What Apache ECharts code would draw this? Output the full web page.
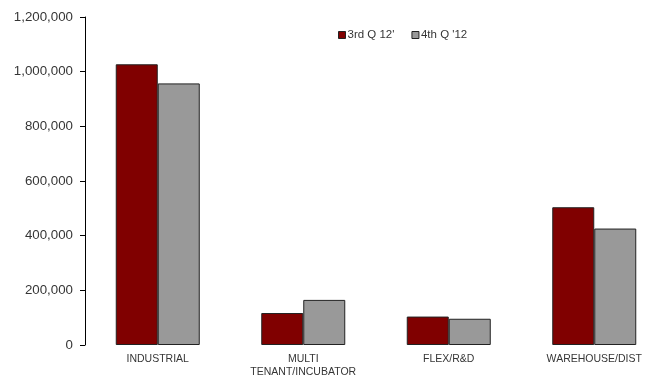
<!DOCTYPE html>
<html>
<head>
<meta charset="utf-8">
<script src="https://cdn.jsdelivr.net/npm/echarts@6/dist/echarts.min.js"></script>
<style>
  html, body { margin: 0; padding: 0; background: #fff; }
  #chart { width: 654px; height: 376px; }
</style>
</head>
<body>
<div id="chart"></div>
<script>
// Space by property type, two quarters
const categories = ['INDUSTRIAL', 'MULTI\nTENANT/INCUBATOR', 'FLEX/R&D', 'WAREHOUSE/DIST'];
const q3Values = [1027000, 117000, 104000, 504000];
const q4Values = [957000, 165000, 96000, 426000];
const seriesNames = ['3rd Q 12\'', '4th Q \'12'];
const yTicks = { min: 0, max: 1200000, interval: 200000 };

const chart = echarts.init(document.getElementById('chart'), null, { renderer: 'canvas' });

const textColor = '#363636';
const font = 'Liberation Sans, Arial, sans-serif';

chart.setOption({
  animation: false,
  backgroundColor: '#ffffff',
  legend: {
    data: seriesNames,
    left: 333,
    top: 24,
    itemWidth: 7,
    itemHeight: 7,
    itemGap: 17,
    icon: 'rect',
    textStyle: { color: textColor, fontFamily: font, fontSize: 11.5, padding: [0, 0, 0, -3] },
    itemStyle: { borderColor: '#222', borderWidth: 1 }
  },
  grid: { left: 85, top: 17, width: 582, height: 328, containLabel: false, outerBoundsMode: 'none' },
  xAxis: {
    type: 'category',
    data: categories,
    axisLine: { show: false },
    axisTick: { show: false },
    axisLabel: {
      color: textColor, fontFamily: font, fontSize: 10.5, margin: 8, lineHeight: 13, interval: 0
    }
  },
  yAxis: {
    type: 'value',
    min: yTicks.min,
    max: yTicks.max,
    interval: yTicks.interval,
    axisLine: { show: true, lineStyle: { color: '#000', width: 1 } },
    axisTick: { show: true, length: 5, lineStyle: { color: '#000' } },
    splitLine: { show: false },
    axisLabel: {
      color: textColor, fontFamily: font, fontSize: 13.3, margin: 12,
      formatter: v => v.toLocaleString('en-US')
    }
  },
  series: [
    {
      name: seriesNames[0],
      type: 'bar',
      data: q3Values,
      barWidth: 42,
      barGap: '0%',
      itemStyle: { color: '#800000', borderColor: '#222', borderWidth: 1 }
    },
    {
      name: seriesNames[1],
      type: 'bar',
      data: q4Values,
      barWidth: 42,
      barGap: '0%',
      itemStyle: { color: '#999999', borderColor: '#222', borderWidth: 1 }
    }
  ]
});
</script>
</body>
</html>
